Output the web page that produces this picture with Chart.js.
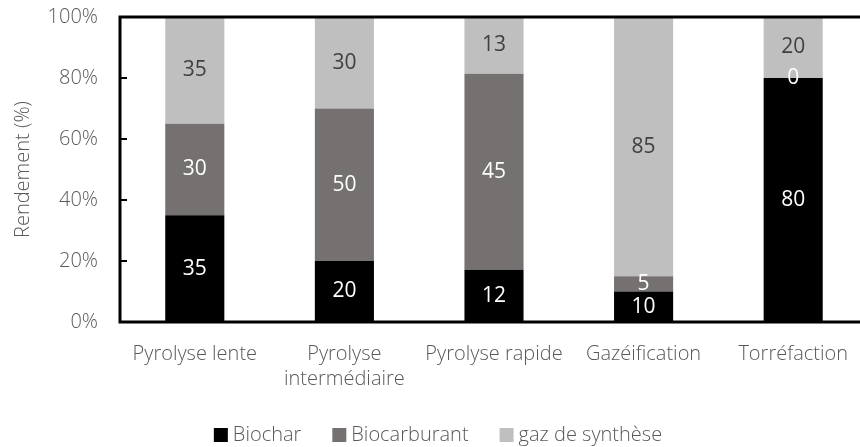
<!DOCTYPE html>
<html>
<head>
<meta charset="utf-8">
<script src="https://cdn.jsdelivr.net/npm/chart.js@4/dist/chart.umd.min.js"></script>
<style>
  html, body { margin: 0; padding: 0; background: #fff; overflow: hidden; }
  #wrap { position: relative; width: 868px; height: 447px; }
</style>
</head>
<body>
<div id="wrap"><canvas id="myChart"></canvas></div>
<script>
'use strict'

// rendements par procédé (valeurs brutes)
var procedes = ['Pyrolyse lente', ['Pyrolyse', 'intermédiaire'], 'Pyrolyse rapide', 'Gazéification', 'Torréfaction']
var biochar = [35, 20, 12, 10, 80]
var biocarburant = [30, 50, 45, 5, 0]
var gazSynthese = [35, 30, 13, 85, 20]
var yTicks = [0, 20, 40, 60, 80, 100]

var FONT = "'Open Sans', sans-serif"
var GREY_TEXT = '#595959'

// barres empilées à 100% : chaque segment en part du total
var totaux = biochar.map(function(v, i) { return v + biocarburant[i] + gazSynthese[i] })
function enPourcent(serie) {
  return serie.map(function(v, i) { return v / totaux[i] * 100 })
}

// valeurs brutes affichées au centre des segments
var etiquettes = {
  id: 'etiquettes',
  afterDatasetsDraw: function(chart) {
    var ctx = chart.ctx
    ctx.save()
    ctx.font = '21px ' + FONT
    ctx.textAlign = 'center'
    ctx.textBaseline = 'middle'
    chart.data.datasets.forEach(function(ds, i) {
      chart.getDatasetMeta(i).data.forEach(function(bar, j) {
        ctx.fillStyle = ds.labelColor
        ctx.fillText(ds.raw[j], bar.x, (bar.y + bar.base) / 2)
      })
    })
    ctx.restore()
  }
}

// cadre noir (haut, gauche, bas) et graduations intérieures
var cadre = {
  id: 'cadre',
  afterDraw: function(chart) {
    var ctx = chart.ctx
    var a = chart.chartArea
    var y = chart.scales.y
    ctx.save()
    ctx.strokeStyle = '#000'
    ctx.lineWidth = 3
    ctx.beginPath()
    ctx.moveTo(a.right + 5, a.top)
    ctx.lineTo(a.left, a.top)
    ctx.lineTo(a.left, a.bottom)
    ctx.lineTo(a.right + 5, a.bottom)
    ctx.stroke()
    ctx.lineWidth = 2
    y.ticks.forEach(function(t) {
      var py = y.getPixelForValue(t.value)
      ctx.beginPath()
      ctx.moveTo(a.left, py)
      ctx.lineTo(a.left + 7, py)
      ctx.stroke()
    })
    ctx.restore()
  }
}

// légende en bas : carré + nom de série, centrée
var legende = {
  id: 'legende',
  afterDraw: function(chart) {
    var ctx = chart.ctx
    var box = 14, gapTexte = 5, gapItem = 31
    var yMid = 435
    ctx.save()
    ctx.font = '300 20px ' + FONT
    ctx.textBaseline = 'middle'
    var items = chart.data.datasets.map(function(ds) {
      return { text: ds.label, color: ds.backgroundColor, w: ctx.measureText(ds.label).width }
    })
    var total = items.reduce(function(s, it) { return s + box + gapTexte + it.w }, 0) + gapItem * (items.length - 1)
    var x = 438 - total / 2
    items.forEach(function(it) {
      ctx.fillStyle = it.color
      ctx.fillRect(x, yMid - 7, box, box)
      x += box + gapTexte
      ctx.fillStyle = GREY_TEXT
      ctx.fillText(it.text, x, yMid)
      x += it.w + gapItem
    })
    ctx.restore()
  }
}

var ctx = document.getElementById('myChart').getContext('2d')
var chart = new Chart(ctx, {
  type: 'bar',
  data: {
    labels: procedes,
    datasets: [{
      label: 'Biochar',
      data: enPourcent(biochar),
      raw: biochar,
      backgroundColor: '#000000',
      labelColor: '#ffffff'
    },
    {
      label: 'Biocarburant',
      data: enPourcent(biocarburant),
      raw: biocarburant,
      backgroundColor: '#767171',
      labelColor: '#ffffff'
    },
    {
      label: 'gaz de synthèse',
      data: enPourcent(gazSynthese),
      raw: gazSynthese,
      backgroundColor: '#bfbfbf',
      labelColor: '#404040'
    }]
  },
  options: {
    responsive: true,
    maintainAspectRatio: false,
    animation: false,
    layout: { padding: { top: 17, left: 0, right: 0, bottom: 0 } },
    datasets: { bar: { categoryPercentage: 1, barPercentage: 0.395 } },
    scales: {
      x: {
        stacked: true,
        afterFit: function(scale) { scale.height = 125 },
        grid: { display: false, drawTicks: false },
        border: { display: false },
        ticks: { color: GREY_TEXT, font: { family: FONT, size: 20, weight: 300, lineHeight: 1.25 }, padding: 20, maxRotation: 0 }
      },
      y: {
        stacked: true,
        min: 0,
        max: 100,
        afterFit: function(scale) {
          scale.width = 120
          scale.paddingTop = 0
          scale.paddingBottom = 0
        },
        afterBuildTicks: function(scale) {
          scale.ticks = yTicks.map(function(v) { return { value: v } })
        },
        grid: { display: false, drawTicks: false },
        border: { display: false },
        ticks: {
          color: GREY_TEXT,
          font: { family: FONT, size: 20, weight: 300 },
          padding: 22,
          callback: function(v) { return v + '%' }
        },
        title: {
          display: true,
          text: 'Rendement (%)',
          color: GREY_TEXT,
          font: { family: FONT, size: 20, weight: 300 },
          padding: { top: 11, bottom: 0 }
        }
      }
    },
    plugins: {
      legend: { display: false },
      tooltip: { enabled: false }
    }
  },
  plugins: [etiquettes, cadre, legende]
})
</script>
</body>
</html>
